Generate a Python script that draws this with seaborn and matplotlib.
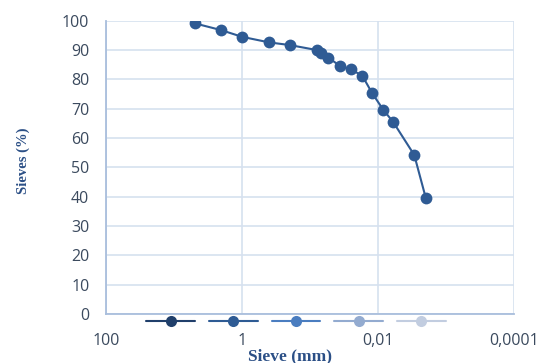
import matplotlib
matplotlib.use("Agg")
import matplotlib.pyplot as plt
from matplotlib.lines import Line2D
from matplotlib.ticker import FixedLocator, NullLocator
import seaborn as sns
import pandas as pd

# Grain-size distribution: sieve opening (mm) and percentage passing
sieve_mm = [4.97, 2.04, 1.0, 0.40, 0.20, 0.080, 0.070, 0.054, 0.037, 0.025,
            0.0171, 0.0122, 0.0084, 0.0060, 0.00295, 0.00199]
passing_pct = [99.1, 96.8, 94.5, 92.6, 91.7, 90.0, 88.9, 87.4, 84.7, 83.4,
               81.2, 75.2, 69.6, 65.4, 54.2, 39.4]

x_ticks = [100, 1, 0.01, 0.0001]
x_tick_labels = ["100", "1", "0,01", "0,0001"]
y_ticks = list(range(0, 101, 10))

legend_colors = ["#203f6b", "#2e5b94", "#4a7dc0", "#93abd0", "#c2cde0"]

sns.set_theme(style="white")
plt.rcParams["font.family"] = ["Open Sans", "DejaVu Sans"]

df = pd.DataFrame({"sieve": sieve_mm, "passing": passing_pct})

fig = plt.figure(figsize=(5.49, 3.63), dpi=100)
ax = fig.add_axes([106 / 549, 1 - 314 / 363, (514.3 - 106) / 549, (314 - 20.7) / 363])

line_color = "#2f5b94"
sns.lineplot(data=df, x="sieve", y="passing", sort=False, ax=ax,
             color=line_color, linewidth=1.5, marker="o", markersize=8.5,
             markeredgewidth=0, zorder=3)

ax.set_xscale("log")
ax.set_xlim(100, 0.0001)
ax.set_ylim(0, 100)
ax.xaxis.set_major_locator(FixedLocator(x_ticks))
ax.xaxis.set_minor_locator(NullLocator())
ax.set_xticklabels(x_tick_labels)
ax.set_yticks(y_ticks)

grid_color = "#d6e1ef"
ax.grid(True, color=grid_color, linewidth=1.2, zorder=0)
ax.set_axisbelow(True)
for side in ["top", "right"]:
    ax.spines[side].set_visible(False)
for side in ["left", "bottom"]:
    ax.spines[side].set_color("#a9bedc")
    ax.spines[side].set_linewidth(1.3)

tick_color = "#3b4a5e"
ax.tick_params(axis="y", length=0, pad=12, labelsize=11.5, labelcolor=tick_color)
ax.tick_params(axis="x", length=0, pad=14, labelsize=11.5, labelcolor=tick_color)

ax.set_xlabel("")
ax.set_ylabel("")

label_color = "#2b4f86"
fig.text(23 / 549, 1 - 161 / 363, "Sieves (%)", rotation=90, ha="center", va="center",
         fontsize=10.5, fontweight="bold", color=label_color, family="Liberation Serif")
fig.text(290 / 549, 1 - 356 / 363, "Sieve (mm)", ha="center", va="center",
         fontsize=12.5, fontweight="bold", color=label_color, family="Liberation Serif")

handles = [Line2D([0], [0], color=c, linewidth=1.5, marker="o", markersize=8,
                  markeredgewidth=0) for c in legend_colors]
fig.legend(handles, [""] * len(handles), loc="center",
           bbox_to_anchor=(296 / 549, 1 - 323 / 363), ncol=5, frameon=False,
           handlelength=3.2, handletextpad=0.0, columnspacing=0.9)

fig.savefig("out.png", dpi=100)
